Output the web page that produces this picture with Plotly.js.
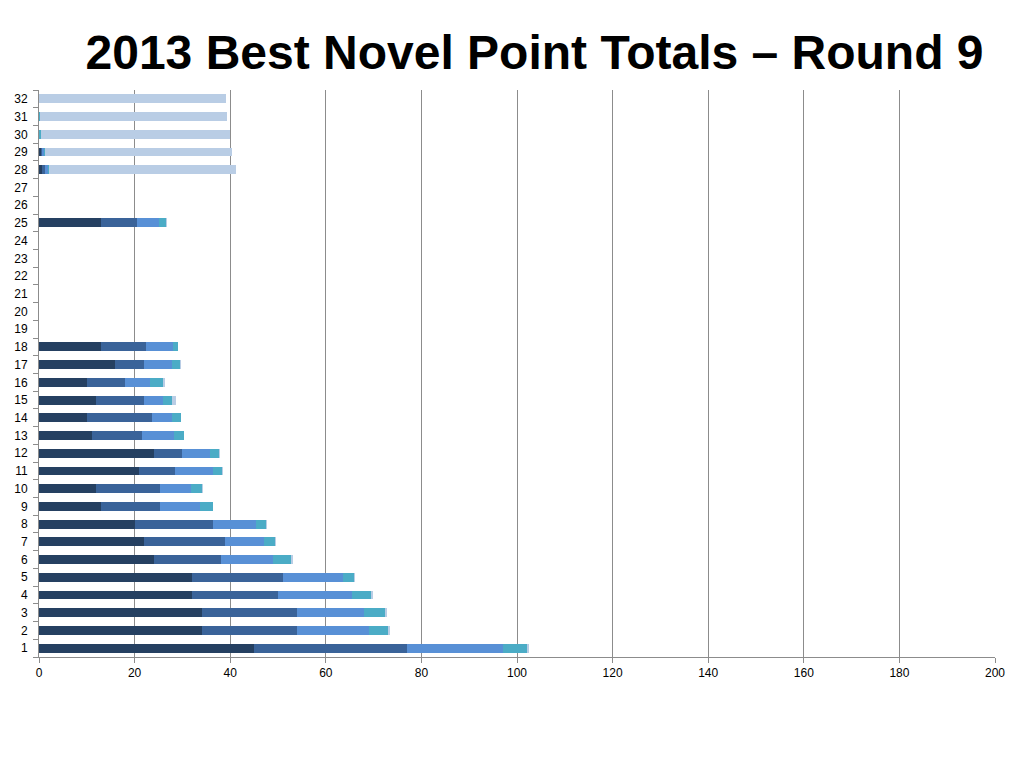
<!DOCTYPE html>
<html>
<head>
<meta charset="utf-8">
<script src="https://cdn.plot.ly/plotly-3.0.1.min.js"></script>
<style>
  html, body { margin: 0; padding: 0; background: #fff; }
  #chart { width: 1024px; height: 768px; }
</style>
</head>
<body>
<div id="chart"></div>
<script>
// Points per entry, split by the ballot position they came from
const entries = ['1','2','3','4','5','6','7','8','9','10','11','12','13','14','15','16',
                 '17','18','19','20','21','22','23','24','25','26','27','28','29','30','31','32'];
const firstPts  = [45, 34, 34, 32, 32, 24, 22, 20, 13, 12, 21, 24, 11, 10, 12, 10, 16, 13, 0, 0, 0, 0, 0, 0, 13, 0, 0, 0.7, 0.4, 0, 0, 0];
const secondPts = [32, 20, 20, 18, 19, 14, 17, 16.5, 12.4, 13.4, 7.5, 6, 10.5, 13.6, 10, 8, 6, 9.4, 0, 0, 0, 0, 0, 0, 7.5, 0, 0, 0.6, 0.3, 0, 0, 0];
const thirdPts  = [20, 15, 14, 15.5, 12.5, 11, 8, 9, 8.3, 6.5, 7.9, 5.7, 6.8, 4.2, 4, 5.3, 5.9, 5.7, 0, 0, 0, 0, 0, 0, 4.6, 0, 0, 0.5, 0.4, 0, 0, 0];
const fourthPts = [5, 4, 4.3, 3.9, 2.5, 3.8, 2.3, 2, 2.7, 2.3, 1.9, 1.9, 2, 1.9, 1.9, 2.7, 1.5, 1.0, 0, 0, 0, 0, 0, 0, 1.4, 0, 0, 0.2, 0.1, 0.5, 0.2, 0];
const fifthPts  = [0.6, 0.5, 0.4, 0.5, 0.2, 0.3, 0.3, 0.3, 0.1, 0.2, 0.2, 0.3, 0.1, 0, 0.7, 0.3, 0.4, 0, 0, 0, 0, 0, 0, 0, 0.3, 0, 0, 39.3, 39.1, 39.4, 39.2, 39.2];
const xTicks = [0, 20, 40, 60, 80, 100, 120, 140, 160, 180, 200];

const seriesList = [
    { name: '1st', values: firstPts,  color: '#254061' },
    { name: '2nd', values: secondPts, color: '#3A6399' },
    { name: '3rd', values: thirdPts,  color: '#5890D6' },
    { name: '4th', values: fourthPts, color: '#4BACC6' },
    { name: '5th', values: fifthPts,  color: '#B9CDE5' },
];

const traces = seriesList.map(s => ({
    type: 'bar', orientation: 'h', name: s.name,
    y: entries, x: s.values,
    marker: { color: s.color },
    hoverinfo: 'x+y',
}));

const layout = {
    width: 1024, height: 768,
    barmode: 'stack', bargap: 0.5,
    showlegend: false,
    paper_bgcolor: '#fff', plot_bgcolor: '#fff',
    font: { family: 'Liberation Sans, Arial, sans-serif', color: '#000', size: 12 },
    title: {
        text: '<b>2013 Best Novel Point Totals – Round 9</b>',
        font: { family: 'Liberation Sans, Arial, sans-serif', size: 48, color: '#000' },
        x: 0.522, xanchor: 'center', y: 0.932, yanchor: 'middle',
    },
    margin: { l: 39, r: 29, t: 90, b: 111 },
    xaxis: {
        range: [0, 200], tickvals: xTicks, ticktext: xTicks.map(String),
        showgrid: true, gridcolor: '#8C8C8C', gridwidth: 1,
        zeroline: false, showline: true, linecolor: '#8C8C8C', linewidth: 1,
        ticks: 'outside', ticklen: 5, tickcolor: '#8C8C8C',
        tickfont: { size: 12, color: '#000' },
        fixedrange: true,
    },
    yaxis: {
        type: 'category', categoryorder: 'array', categoryarray: entries,
        range: [-0.5, 31.5],
        showgrid: false, zeroline: false,
        showline: true, linecolor: '#8C8C8C', linewidth: 1,
        ticks: 'outside', ticklen: 5, tickcolor: '#8C8C8C', tickson: 'boundaries',
        tickfont: { size: 12, color: '#000' },
        ticklabelstandoff: 8,
        fixedrange: true,
    },
};

Plotly.newPlot('chart', traces, layout, { displayModeBar: false, staticPlot: true });
</script>
</body>
</html>
